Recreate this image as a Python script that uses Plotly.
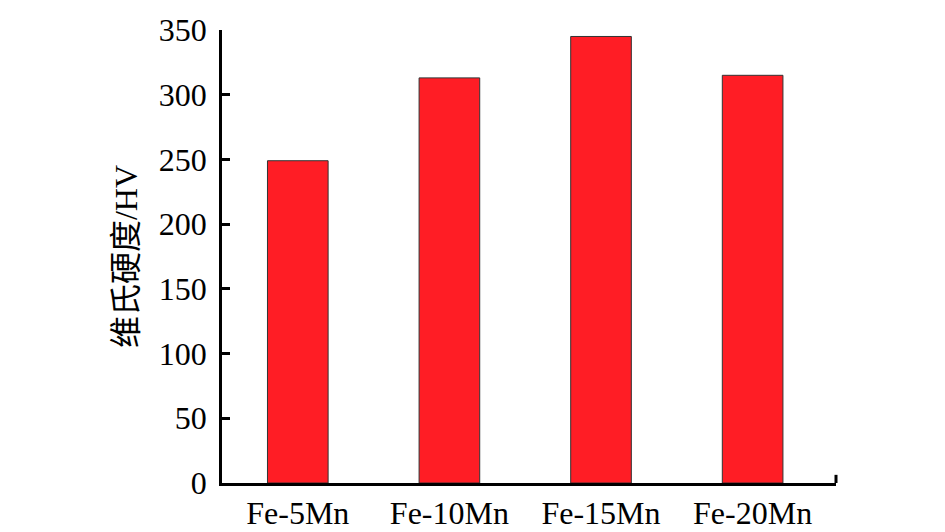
import plotly.graph_objects as go

categories = ["Fe-5Mn", "Fe-10Mn", "Fe-15Mn", "Fe-20Mn"]
hardness = [249, 313, 345, 315]
y_ticks = [0, 50, 100, 150, 200, 250, 300, 350]

font_family = "Liberation Serif, Times New Roman, Noto Sans CJK SC, serif"

fig = go.Figure()
fig.add_trace(go.Bar(
    x=list(range(len(categories))),
    y=hardness,
    width=0.4,
    marker=dict(color="#FF1D25", line=dict(color="#333333", width=1)),
))

# page body has an 8px default margin, so the figure is sized to fit inside the window
fig.update_layout(
    width=937, height=524,
    margin=dict(l=214, r=109, t=22, b=49),
    paper_bgcolor="white", plot_bgcolor="white",
    showlegend=False,
    font=dict(family=font_family, size=32, color="black"),
    xaxis=dict(
        automargin=False,
        range=[-0.5, 3.55],
        tickmode="array",
        tickvals=list(range(len(categories))),
        ticktext=categories,
        ticks="",
        showgrid=False, zeroline=False,
        showline=True, linecolor="black", linewidth=3,
        tickfont=dict(family=font_family, size=32),
    ),
    yaxis=dict(
        automargin=False,
        range=[0, 350],
        tickmode="array",
        tickvals=y_ticks,
        ticks="inside", ticklen=8, tickwidth=2.5, tickcolor="black",
        showgrid=False, zeroline=False,
        showline=True, linecolor="black", linewidth=2.5,
        tickfont=dict(family=font_family, size=32),
        ticklabelstandoff=6,
        title=dict(text="维氏硬度/HV", font=dict(family=font_family, size=32), standoff=12),
    ),
)

# small upward tick at the right end of the x-axis
fig.add_shape(type="line", xref="x domain", yref="y domain",
              x0=1, x1=1, y0=0, y1=0.018,
              line=dict(color="black", width=3))

fig.write_html("out.html")
